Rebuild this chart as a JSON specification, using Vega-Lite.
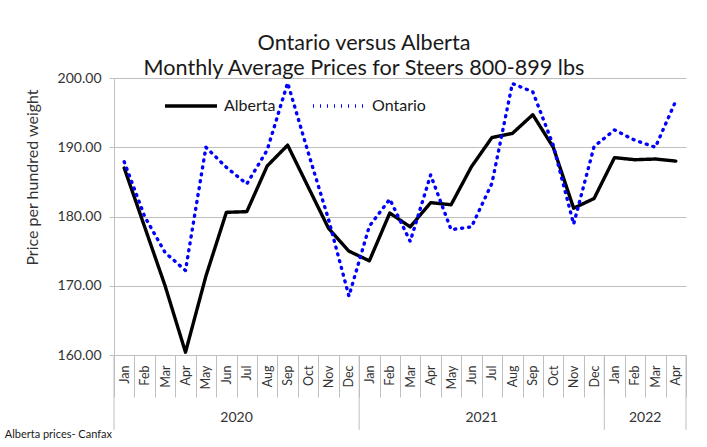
{
  "$schema": "https://vega.github.io/schema/vega-lite/v6.json",
  "autosize": {"type": "none"},
  "width": 572,
  "height": 277,
  "padding": {"left": 114, "top": 78, "right": 21, "bottom": 92},
  "background": "white",
  "config": {
    "font": "Lato",
    "view": {"stroke": null},
    "axis": {"labelFont": "Lato", "titleFont": "Lato"}
  },
  "title": {
    "text": ["Ontario versus Alberta", "Monthly Average Prices for Steers 800-899 lbs"],
    "fontSize": 21.6,
    "fontWeight": "normal",
    "color": "#1a1a1a",
    "anchor": "middle",
    "frame": "group",
    "dx": -36,
    "lineHeight": 25,
    "offset": -9
  },
  "datasets": {
    "prices": [
      {"m": "Jan 2020", "series": "Alberta", "price": 187.0},
      {"m": "Feb 2020", "series": "Alberta", "price": 178.5},
      {"m": "Mar 2020", "series": "Alberta", "price": 170.0},
      {"m": "Apr 2020", "series": "Alberta", "price": 160.4},
      {"m": "May 2020", "series": "Alberta", "price": 171.4},
      {"m": "Jun 2020", "series": "Alberta", "price": 180.6},
      {"m": "Jul 2020", "series": "Alberta", "price": 180.7},
      {"m": "Aug 2020", "series": "Alberta", "price": 187.3},
      {"m": "Sep 2020", "series": "Alberta", "price": 190.3},
      {"m": "Oct 2020", "series": "Alberta", "price": 184.3},
      {"m": "Nov 2020", "series": "Alberta", "price": 178.3},
      {"m": "Dec 2020", "series": "Alberta", "price": 175.0},
      {"m": "Jan 2021", "series": "Alberta", "price": 173.6},
      {"m": "Feb 2021", "series": "Alberta", "price": 180.5},
      {"m": "Mar 2021", "series": "Alberta", "price": 178.5},
      {"m": "Apr 2021", "series": "Alberta", "price": 182.0},
      {"m": "May 2021", "series": "Alberta", "price": 181.7},
      {"m": "Jun 2021", "series": "Alberta", "price": 187.2},
      {"m": "Jul 2021", "series": "Alberta", "price": 191.4},
      {"m": "Aug 2021", "series": "Alberta", "price": 192.0},
      {"m": "Sep 2021", "series": "Alberta", "price": 194.7},
      {"m": "Oct 2021", "series": "Alberta", "price": 190.0},
      {"m": "Nov 2021", "series": "Alberta", "price": 181.2},
      {"m": "Dec 2021", "series": "Alberta", "price": 182.6},
      {"m": "Jan 2022", "series": "Alberta", "price": 188.5},
      {"m": "Feb 2022", "series": "Alberta", "price": 188.2},
      {"m": "Mar 2022", "series": "Alberta", "price": 188.3},
      {"m": "Apr 2022", "series": "Alberta", "price": 188.0},
      {"m": "Jan 2020", "series": "Ontario", "price": 187.9},
      {"m": "Feb 2020", "series": "Ontario", "price": 180.0},
      {"m": "Mar 2020", "series": "Ontario", "price": 174.8},
      {"m": "Apr 2020", "series": "Ontario", "price": 172.2},
      {"m": "May 2020", "series": "Ontario", "price": 190.0},
      {"m": "Jun 2020", "series": "Ontario", "price": 187.1},
      {"m": "Jul 2020", "series": "Ontario", "price": 184.7},
      {"m": "Aug 2020", "series": "Ontario", "price": 189.6},
      {"m": "Sep 2020", "series": "Ontario", "price": 199.3},
      {"m": "Oct 2020", "series": "Ontario", "price": 189.3},
      {"m": "Nov 2020", "series": "Ontario", "price": 179.6},
      {"m": "Dec 2020", "series": "Ontario", "price": 168.5},
      {"m": "Jan 2021", "series": "Ontario", "price": 178.6},
      {"m": "Feb 2021", "series": "Ontario", "price": 182.5},
      {"m": "Mar 2021", "series": "Ontario", "price": 176.4},
      {"m": "Apr 2021", "series": "Ontario", "price": 186.0},
      {"m": "May 2021", "series": "Ontario", "price": 178.1},
      {"m": "Jun 2021", "series": "Ontario", "price": 178.5},
      {"m": "Jul 2021", "series": "Ontario", "price": 184.8},
      {"m": "Aug 2021", "series": "Ontario", "price": 199.2},
      {"m": "Sep 2021", "series": "Ontario", "price": 198.0},
      {"m": "Oct 2021", "series": "Ontario", "price": 190.3},
      {"m": "Nov 2021", "series": "Ontario", "price": 178.9},
      {"m": "Dec 2021", "series": "Ontario", "price": 190.1},
      {"m": "Jan 2022", "series": "Ontario", "price": 192.5},
      {"m": "Feb 2022", "series": "Ontario", "price": 191.0},
      {"m": "Mar 2022", "series": "Ontario", "price": 190.0},
      {"m": "Apr 2022", "series": "Ontario", "price": 196.7}
    ],
    "yearStarts": [
      {"m": "Jan 2020"},
      {"m": "Jan 2021"},
      {"m": "Jan 2022"}
    ],
    "lastMonth": [
      {"m": "Apr 2022"}
    ],
    "years": [
      {"m": "Jul 2020", "year": "2020"},
      {"m": "Jul 2021", "year": "2021"},
      {"m": "Mar 2022", "year": "2022"}
    ],
    "source": [
      {"m": "Jan 2020", "note": "Alberta prices- Canfax"}
    ]
  },
  "layer": [
    {
      "data": {"name": "prices"},
      "mark": {"type": "line", "strokeCap": "round", "strokeJoin": "round", "strokeWidth": 3.4},
      "encoding": {
        "x": {
          "field": "m", "type": "ordinal", "sort": null,
          "scale": {"type": "band", "paddingInner": 0, "paddingOuter": 0},
          "axis": {
            "orient": "bottom",
            "title": null,
            "tickBand": "extent",
            "tickSize": 42,
            "tickColor": "#bfbfbf",
            "domainColor": "#bfbfbf",
            "labelAngle": 270,
            "labelAlign": "right",
            "labelBaseline": "middle",
            "labelPadding": -32,
            "labelFontSize": 12.5,
            "labelColor": "#333333",
            "labelExpr": "isString(datum.value) ? slice(datum.value, 0, 3) : ''"
          }
        },
        "y": {
          "field": "price", "type": "quantitative",
          "scale": {"domain": [160, 200], "nice": false, "zero": false},
          "axis": {
            "values": [160, 170, 180, 190, 200],
            "format": ".2f",
            "grid": true,
            "gridColor": "#bfbfbf",
            "domainColor": "#bfbfbf",
            "tickColor": "#bfbfbf",
            "tickSize": 5,
            "labelPadding": 8,
            "labelFontSize": 14,
            "labelColor": "#333333",
            "title": "Price per hundred weight",
            "titleFontSize": 16,
            "titleFontWeight": "normal",
            "titleColor": "#333333",
            "titlePadding": 17,
            "titleY": 99
          }
        },
        "color": {
          "field": "series", "type": "nominal",
          "scale": {"domain": ["Alberta", "Ontario"], "range": ["#000000", "#0000ff"]},
          "legend": {
            "title": null,
            "orient": "none",
            "legendX": 49,
            "legendY": 0,
            "direction": "horizontal",
            "symbolType": "stroke",
            "symbolSize": 2704,
            "symbolStrokeWidth": 3.5,
            "labelFontSize": 16,
            "labelColor": "#1a1a1a",
            "labelOffset": 5,
            "columnPadding": 30
          }
        },
        "strokeDash": {
          "field": "series", "type": "nominal",
          "scale": {"domain": ["Alberta", "Ontario"], "range": [[1, 0], [1, 6]]}
        }
      }
    },
    {
      "data": {"name": "yearStarts"},
      "mark": {"type": "rule", "color": "#bfbfbf", "strokeWidth": 1},
      "encoding": {
        "x": {"field": "m", "type": "ordinal", "sort": null, "bandPosition": 0},
        "y": {"datum": 160},
        "y2": {"datum": 149.2}
      }
    },
    {
      "data": {"name": "lastMonth"},
      "mark": {"type": "rule", "color": "#bfbfbf", "strokeWidth": 1},
      "encoding": {
        "x": {"field": "m", "type": "ordinal", "sort": null, "bandPosition": 1},
        "y": {"datum": 160},
        "y2": {"datum": 149.2}
      }
    },
    {
      "data": {"name": "years"},
      "mark": {"type": "text", "fontSize": 14, "color": "#333333", "baseline": "middle", "align": "center"},
      "encoding": {
        "x": {"field": "m", "type": "ordinal", "sort": null, "bandPosition": 0},
        "y": {"datum": 150.9},
        "text": {"field": "year"}
      }
    },
    {
      "data": {"name": "source"},
      "mark": {"type": "text", "fontSize": 11, "color": "#1a1a1a", "baseline": "middle", "align": "right", "dx": -2},
      "encoding": {
        "x": {"field": "m", "type": "ordinal", "sort": null, "bandPosition": 0},
        "y": {"datum": 148.45},
        "text": {"field": "note"}
      }
    }
  ]
}
